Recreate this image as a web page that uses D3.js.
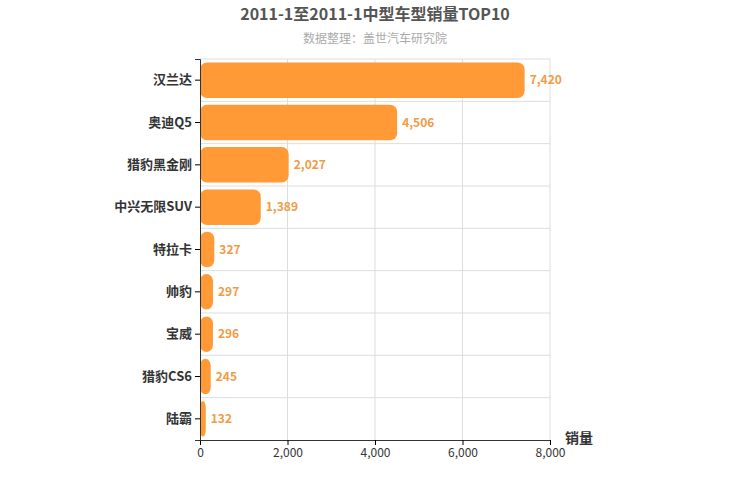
<!DOCTYPE html>
<html><head><meta charset="utf-8">
<script src="https://cdn.jsdelivr.net/npm/d3@7.9.0/dist/d3.min.js"></script>
<style>body{margin:0;background:#fff;font-family:"Noto Sans CJK SC",sans-serif}</style>
</head><body><svg id="chart" width="750" height="500"></svg>
<script>
// chart data
const categories = ['汉兰达', '奥迪Q5', '猎豹黑金刚', '中兴无限SUV', '特拉卡', '帅豹', '宝威', '猎豹CS6', '陆霸'];
const sales = [7420, 4506, 2027, 1389, 327, 297, 296, 245, 132];
const xTicks = [0, 2000, 4000, 6000, 8000];

const svg = d3.select('#chart');
const m = { left: 200, right: 550, top: 59, bottom: 440 };

const x = d3.scaleLinear().domain([0, 8000]).range([m.left, m.right]);
const y = d3.scaleBand().domain(categories).range([m.top, m.bottom]).paddingInner(0.16).paddingOuter(0.08);

// title
svg.append('text').attr('x', 375).attr('y', 20).attr('text-anchor', 'middle')
  .attr('font-size', 16).attr('font-weight', 'bold').attr('fill', '#555')
  .text('2011-1至2011-1中型车型销量TOP10');
svg.append('text').attr('x', 375).attr('y', 43).attr('text-anchor', 'middle')
  .attr('font-size', 12).attr('fill', '#aaa').text('数据整理：盖世汽车研究院');

// grid
const grid = svg.append('g').attr('stroke', '#ddd');
xTicks.slice(1).forEach(t => {
  grid.append('line').attr('x1', x(t)).attr('x2', x(t)).attr('y1', m.top).attr('y2', m.bottom);
});
const step = y.step();
categories.forEach((c, i) => {
  const yy = y(c) + y.bandwidth() + step * y.paddingInner() / 2;
  if (i < categories.length - 1)
    grid.append('line').attr('x1', m.left).attr('x2', m.right).attr('y1', yy).attr('y2', yy);
});
grid.append('line').attr('x1', m.left).attr('x2', m.right).attr('y1', m.top).attr('y2', m.top);

// bars
svg.selectAll('rect.bar').data(sales).join('rect')
  .attr('x', x(0)).attr('y', (d, i) => y(categories[i]))
  .attr('width', d => x(d) - x(0)).attr('height', y.bandwidth())
  .attr('rx', 7).attr('fill', '#ff9a36');

svg.selectAll('text.val').data(sales).join('text')
  .attr('x', d => x(d) + 5).attr('y', (d, i) => y(categories[i]) + y.bandwidth() / 2 + 4)
  .attr('font-size', 12).attr('font-weight', 'bold').attr('fill', '#f29b45')
  .text(d => d3.format(',')(d));

// axes
const xAxis = svg.append('g').attr('transform', `translate(0,${m.bottom})`)
  .call(d3.axisBottom(x).tickValues(xTicks).tickFormat(d3.format(',')).tickSize(5));
xAxis.select('.domain').attr('stroke', '#333');
xAxis.selectAll('text').attr('font-size', 12).attr('fill', '#333').attr('font-family', 'Noto Sans CJK SC');

const yAxis = svg.append('g').attr('transform', `translate(${m.left},0)`)
  .call(d3.axisLeft(y).tickSize(5));
yAxis.select('.domain').attr('stroke', '#333');
yAxis.selectAll('text').attr('font-size', 13).attr('font-weight', 'bold').attr('fill', '#333').attr('font-family', 'Noto Sans CJK SC');

svg.append('text').attr('x', 565).attr('y', 443).attr('font-size', 14).attr('font-weight', 'bold')
  .attr('fill', '#333').text('销量');
</script></body></html>
